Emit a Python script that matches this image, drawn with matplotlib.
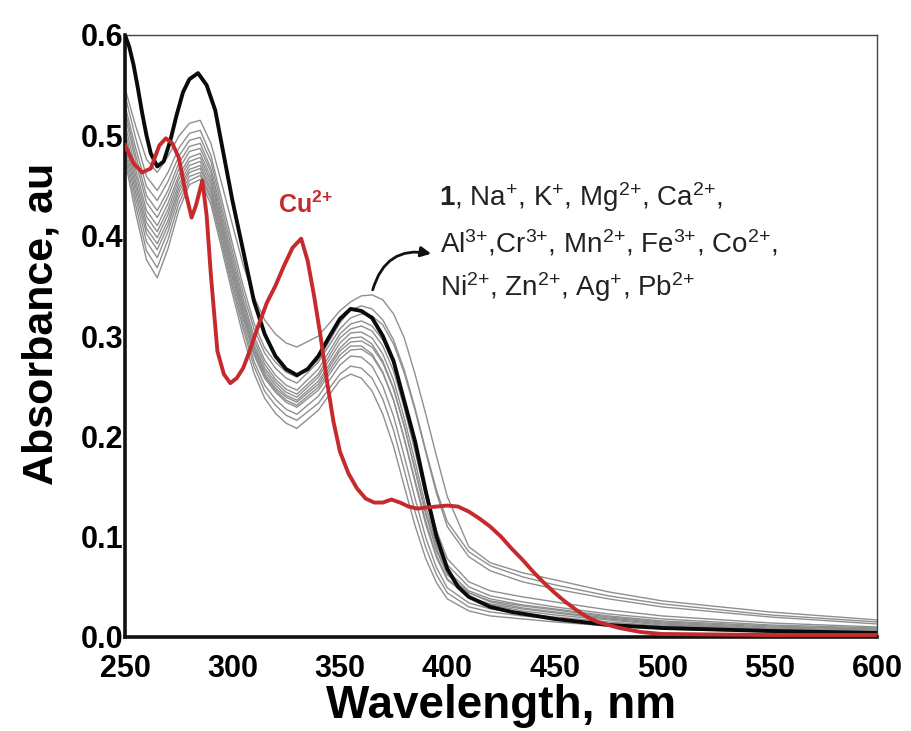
import matplotlib
matplotlib.use('Agg')
import matplotlib.pyplot as plt

plt.rcParams['font.family'] = ['Liberation Sans', 'DejaVu Sans']
plt.rcParams['mathtext.fontset'] = 'custom'
plt.rcParams['mathtext.rm'] = 'Liberation Sans'
plt.rcParams['mathtext.bf'] = 'Liberation Sans:bold'
plt.rcParams['mathtext.it'] = 'Liberation Sans:italic'

# ---------------- data ----------------
# compound 1 (black)
wl_black = [250, 252, 254, 256, 258, 260, 262, 265, 268, 271, 274, 277, 280, 284, 288, 292, 296,
            300, 305, 310, 315, 320, 325, 330, 335, 340, 345, 350, 355, 360, 365, 370, 375, 380,
            385, 390, 395, 400, 405, 410, 420, 430, 450, 475, 500, 550, 600]
abs_black = [0.600, 0.588, 0.570, 0.547, 0.522, 0.500, 0.482, 0.469, 0.474, 0.494, 0.520, 0.543,
             0.556, 0.562, 0.550, 0.525, 0.480, 0.435, 0.385, 0.335, 0.302, 0.280, 0.267, 0.261,
             0.267, 0.280, 0.299, 0.317, 0.327, 0.325, 0.318, 0.300, 0.275, 0.235, 0.195, 0.145,
             0.100, 0.068, 0.050, 0.040, 0.030, 0.025, 0.018, 0.012, 0.009, 0.006, 0.004]

# 1 + Cu2+ (red)
wl_cu = [250, 254, 258, 262, 266, 269, 272, 275, 278, 281, 283, 286, 288, 290, 293, 296, 299,
         302, 305, 308, 312, 316, 320, 324, 328, 332, 335, 338, 341, 344, 347, 350, 354, 358,
         362, 366, 370, 374, 378, 382, 386, 390, 395, 400, 405, 410, 415, 420, 425, 430, 435,
         440, 445, 450, 455, 460, 465, 470, 480, 490, 500, 550, 600]
abs_cu = [0.490, 0.472, 0.463, 0.467, 0.490, 0.497, 0.492, 0.478, 0.445, 0.418, 0.430, 0.455,
          0.420, 0.360, 0.285, 0.262, 0.253, 0.258, 0.268, 0.285, 0.310, 0.333, 0.350, 0.370,
          0.388, 0.397, 0.375, 0.340, 0.300, 0.255, 0.215, 0.185, 0.163, 0.148, 0.138, 0.134,
          0.134, 0.137, 0.134, 0.130, 0.128, 0.129, 0.130, 0.131, 0.130, 0.125, 0.118, 0.110,
          0.100, 0.088, 0.077, 0.065, 0.054, 0.044, 0.035, 0.027, 0.020, 0.015, 0.009, 0.005,
          0.003, 0.002, 0.002]

# other metal ions (grey)
wl_grey = [250, 255, 260, 265, 270, 275, 280, 285, 290, 295, 300, 305, 310, 315, 320, 325, 330,
           340, 350, 355, 360, 365, 370, 375, 380, 385, 390, 395, 400, 410, 420, 435, 450, 475,
           500, 550, 600]
grey_curves = [
    [.547, .509, .476, .463, .479, .499, .512, .515, .492, .452, .411, .371, .339, .316, .302, .293, .289,
     .300, .325, .334, .340, .341, .336, .322, .298, .262, .222, .180, .140, .090, .074, .064, .057, .045,
     .036, .025, .017],
    [.540, .497, .459, .445, .463, .487, .502, .505, .480, .436, .392, .350, .313, .288, .274, .264, .259,
     .276, .313, .326, .330, .327, .316, .296, .266, .228, .186, .146, .115, .085, .071, .060, .052, .041,
     .033, .022, .015],
    [.530, .487, .449, .435, .454, .479, .495, .498, .474, .429, .385, .343, .307, .283, .268, .258, .253,
     .274, .307, .318, .322, .320, .311, .292, .263, .226, .184, .143, .110, .080, .066, .055, .048, .038,
     .030, .020, .013],
    [.525, .480, .440, .425, .445, .472, .489, .492, .467, .423, .379, .337, .300, .276, .261, .251, .246,
     .267, .302, .312, .315, .310, .296, .272, .236, .194, .148, .106, .078, .055, .046, .040, .035, .027,
     .021, .014, .010],
    [.520, .474, .433, .418, .439, .466, .484, .487, .463, .418, .374, .333, .296, .272, .257, .247, .242,
     .262, .298, .307, .310, .305, .290, .265, .228, .185, .140, .099, .072, .050, .041, .035, .030, .023,
     .018, .012, .009],
    [.512, .466, .425, .410, .432, .460, .478, .482, .458, .414, .370, .329, .292, .268, .254, .244, .239,
     .259, .293, .303, .304, .298, .282, .256, .218, .175, .130, .092, .066, .046, .038, .032, .028, .021,
     .016, .011, .008],
    [.505, .460, .419, .404, .426, .456, .474, .478, .454, .410, .367, .326, .289, .265, .251, .241, .236,
     .255, .288, .298, .299, .292, .275, .248, .210, .166, .122, .086, .062, .044, .036, .031, .027, .020,
     .015, .010, .008],
    [.500, .454, .413, .398, .421, .451, .470, .474, .450, .407, .364, .323, .287, .262, .248, .239, .234,
     .252, .285, .294, .295, .289, .273, .247, .210, .167, .124, .088, .063, .044, .035, .029, .025, .019,
     .014, .009, .007],
    [.495, .449, .407, .392, .415, .447, .466, .470, .446, .403, .360, .320, .284, .260, .246, .236, .231,
     .249, .281, .290, .290, .282, .264, .236, .197, .154, .112, .079, .057, .040, .033, .028, .024, .018,
     .013, .008, .006],
    [.490, .443, .402, .386, .410, .443, .463, .467, .443, .400, .357, .317, .281, .258, .244, .234, .229,
     .246, .277, .286, .287, .280, .263, .236, .198, .156, .115, .081, .058, .040, .032, .026, .022, .017,
     .012, .008, .006],
    [.485, .437, .394, .378, .404, .438, .459, .463, .439, .396, .352, .312, .275, .251, .237, .227, .222,
     .240, .271, .280, .279, .270, .250, .220, .180, .138, .099, .069, .049, .034, .028, .023, .020, .015,
     .011, .007, .005],
    [.480, .430, .385, .368, .396, .432, .455, .460, .436, .392, .348, .307, .270, .245, .231, .221, .216,
     .233, .262, .270, .268, .258, .237, .206, .166, .125, .089, .062, .044, .030, .025, .021, .018, .013,
     .010, .006, .004],
    [.475, .422, .376, .358, .387, .425, .451, .456, .431, .387, .342, .300, .263, .238, .223, .213, .208,
     .226, .256, .262, .258, .245, .222, .190, .150, .111, .078, .054, .038, .026, .021, .018, .015, .011,
     .008, .005, .003],
]

x_ticks = [250, 300, 350, 400, 450, 500, 550, 600]
y_ticks = [0.0, 0.1, 0.2, 0.3, 0.4, 0.5, 0.6]
x_tick_labels = ['250', '300', '350', '400', '450', '500', '550', '600']
y_tick_labels = ['0.0', '0.1', '0.2', '0.3', '0.4', '0.5', '0.6']

ion_lines = [r'$\mathbf{1}$, Na$^{+}$, K$^{+}$, Mg$^{2{+}}$, Ca$^{2{+}}$,',
             r'Al$^{3{+}}$,Cr$^{3{+}}$, Mn$^{2{+}}$, Fe$^{3{+}}$, Co$^{2{+}}$,',
             r'Ni$^{2{+}}$, Zn$^{2{+}}$, Ag$^{+}$, Pb$^{2{+}}$']

# ---------------- figure ----------------
W, H = 911, 731
fig = plt.figure(figsize=(W / 100, H / 100), dpi=100)
ax = fig.add_axes([125 / W, 1 - 637 / H, (877 - 125) / W, (637 - 35) / H])

for g in grey_curves:
    ax.plot(wl_grey, g, color='#8f8f8f', lw=1.0, solid_joinstyle='round', zorder=2)
ax.plot(wl_black, abs_black, color='#0a0a0a', lw=2.8, solid_joinstyle='round', zorder=3)
ax.plot(wl_cu, abs_cu, color='#c62a2c', lw=2.8, solid_joinstyle='round', zorder=4)

ax.set_xlim(250, 600)
ax.set_ylim(0, 0.6)
ax.set_xticks(x_ticks)
ax.set_xticklabels(x_tick_labels)
ax.set_yticks(y_ticks)
ax.set_yticklabels(y_tick_labels)
ax.tick_params(length=0, labelsize=22)
ax.tick_params(axis='x', pad=12)
ax.tick_params(axis='y', pad=1)
for lab in ax.get_xticklabels() + ax.get_yticklabels():
    lab.set_fontweight('bold')

for side in ['left', 'bottom']:
    ax.spines[side].set_linewidth(2.6)
    ax.spines[side].set_color('#111111')
for side in ['top', 'right']:
    ax.spines[side].set_linewidth(1.0)
    ax.spines[side].set_color('#444444')

ax.set_xlabel('Wavelength, nm', fontsize=33, fontweight='bold', labelpad=0)
ax.set_ylabel('Absorbance, au', fontsize=31, fontweight='bold')
ax.yaxis.set_label_coords(-0.084, 0.52)

# annotations
fig.text(278 / W, 1 - 205 / H, r'$\mathbf{Cu^{2{+}}}$', color='#c62a2c', fontsize=18,
         ha='left', va='center')
ys = [197, 243, 287]
xs = [439, 440, 440]
for t, xx, yy in zip(ion_lines, xs, ys):
    fig.text(xx / W, 1 - yy / H, t, color='#222222', fontsize=20, ha='left', va='center')

ax.annotate('', xy=(392.5, 0.382), xytext=(365.3, 0.346),
            arrowprops=dict(arrowstyle='-|>,head_length=0.6,head_width=0.3', color='#111111',
                            lw=2.0, connectionstyle='arc3,rad=-0.45', shrinkA=0, shrinkB=0))

fig.savefig('out.png', dpi=100)
